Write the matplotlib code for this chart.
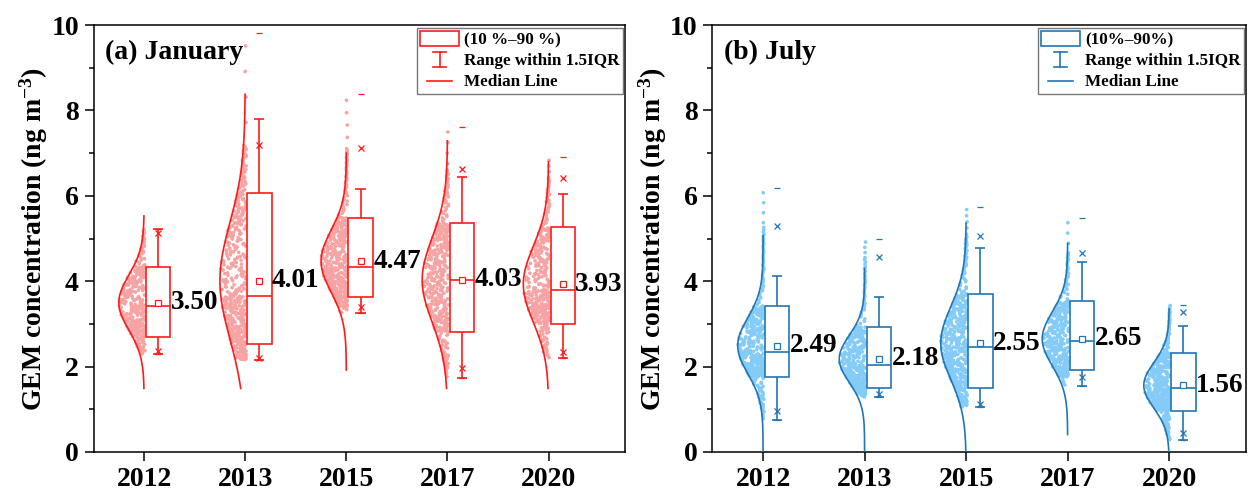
import numpy as np
import matplotlib
matplotlib.use('Agg')
import matplotlib.pyplot as plt
from matplotlib.patches import Rectangle, Patch
from matplotlib.lines import Line2D
from matplotlib.legend_handler import HandlerBase
from matplotlib.ticker import MultipleLocator

plt.rcParams['font.family'] = ['Liberation Serif', 'DejaVu Serif']
plt.rcParams['font.weight'] = 'bold'
plt.rcParams['mathtext.fontset'] = 'custom'
plt.rcParams['mathtext.rm'] = 'Liberation Serif:bold'
plt.rcParams['mathtext.bf'] = 'Liberation Serif:bold'
plt.rcParams['mathtext.default'] = 'bf'

years = ['2012', '2013', '2015', '2017', '2020']

# January
jan_mean = [3.50, 4.01, 4.47, 4.03, 3.93]
jan_median = [3.42, 3.65, 4.33, 4.03, 3.79]
jan_p10 = [2.70, 2.53, 3.64, 2.82, 3.00]
jan_p90 = [4.34, 6.07, 5.49, 5.36, 5.28]
jan_whi_lo = [2.29, 2.16, 3.25, 1.73, 2.19]
jan_whi_hi = [5.23, 7.79, 6.17, 6.44, 6.04]
jan_p1 = [2.37, 2.19, 3.40, 1.97, 2.35]
jan_p99 = [5.12, 7.18, 7.11, 6.63, 6.42]
jan_min = [2.29, 2.16, 3.25, 1.73, 2.19]
jan_max = [5.23, 9.81, 8.38, 7.62, 6.90]
jan_sd = [0.64, 1.36, 0.72, 0.99, 0.89]
jan_curve_lo = [1.49, 1.49, 1.92, 1.49, 1.49]
jan_curve_hi = [5.53, 8.38, 7.00, 7.29, 6.80]
jan_n = [300, 440, 440, 400, 360]

# July
jul_mean = [2.49, 2.18, 2.55, 2.65, 1.56]
jul_median = [2.34, 2.03, 2.47, 2.59, 1.50]
jul_p10 = [1.76, 1.51, 1.51, 1.91, 0.97]
jul_p90 = [3.42, 2.93, 3.69, 3.53, 2.33]
jul_whi_lo = [0.75, 1.28, 1.05, 1.54, 0.27]
jul_whi_hi = [4.13, 3.64, 4.77, 4.45, 2.96]
jul_p1 = [0.96, 1.35, 1.13, 1.76, 0.44]
jul_p99 = [5.30, 4.56, 5.06, 4.67, 3.29]
jul_min = [0.75, 1.28, 1.05, 1.54, 0.27]
jul_max = [6.19, 4.98, 5.75, 5.49, 3.45]
jul_sd = [0.65, 0.55, 0.85, 0.63, 0.53]
jul_curve_lo = [0.0, 0.0, 0.0, 0.41, 0.0]
jul_curve_hi = [5.07, 4.30, 5.36, 4.89, 3.35]
jul_n = [380, 340, 480, 340, 400]


class LegHandler(HandlerBase):
    def __init__(self, kind, color):
        super().__init__()
        self.kind = kind
        self.color = color

    def create_artists(self, legend, orig_handle, xdescent, ydescent,
                       width, height, fontsize, trans):
        x0, y0 = -xdescent, -ydescent
        cx = x0 + width / 2
        if self.kind == 'box':
            return [Rectangle((x0, y0), width, height, facecolor='white',
                              edgecolor=self.color, lw=1.2, transform=trans)]
        if self.kind == 'whisker':
            cw = width * 0.17
            return [Line2D([cx, cx], [y0, y0 + height], color=self.color, lw=1.2, transform=trans),
                    Line2D([cx - cw, cx + cw], [y0, y0], color=self.color, lw=1.2, transform=trans),
                    Line2D([cx - cw, cx + cw], [y0 + height] * 2, color=self.color, lw=1.2, transform=trans)]
        return [Line2D([x0 + 0.18 * width, x0 + 0.82 * width], [y0 + height / 2] * 2,
                       color=self.color, lw=1.2, transform=trans)]


def hash01(k):
    # deterministic scatter jitter in [0, 1)
    v = np.sin(k * 12.9898 + 78.233) * 43758.5453
    return v - np.floor(v)


def draw_panel(ax, stats, line_c, pt_c, title, box_label):
    (mean, med, p10, p90, wlo, whi, p1, p99, mn, mx, sd, clo, chi, npts) = stats
    pos = np.arange(1, len(years) + 1)
    for i, p in enumerate(pos):
        # scatter cloud inside the half curve
        k = np.arange(npts[i])
        q = (k + 0.5) / npts[i]
        u = hash01(k + 1000 * i + 7)
        yv = np.interp(q, [0, 0.01, 0.10, 0.50, 0.90, 0.99, 1.0],
                       [mn[i], p1[i], p10[i], med[i], p90[i], p99[i], mx[i]])
        g = np.exp(-(yv - mean[i]) ** 2 / (2 * sd[i] ** 2))
        xv = p + 0.01 - u * (0.25 * g + 0.01)
        ax.scatter(xv, yv, s=7, color=pt_c, edgecolors='none', zorder=2)
        # half normal curve
        yc = np.linspace(clo[i], chi[i], 200)
        xc = p - 0.25 * np.exp(-(yc - mean[i]) ** 2 / (2 * sd[i] ** 2))
        ax.plot(xc, yc, color=line_c, lw=1.2, zorder=3)

    bx = pos + 0.14
    ax.bar(bx, np.array(p90) - np.array(p10), bottom=p10, width=0.24,
           facecolor='white', edgecolor=line_c, linewidth=1.2, zorder=3)
    ax.hlines(med, bx - 0.12, bx + 0.12, color=line_c, lw=1.2, zorder=4)
    ax.vlines(bx, p90, whi, color=line_c, lw=1.2, zorder=3)
    ax.vlines(bx, wlo, p10, color=line_c, lw=1.2, zorder=3)
    ax.hlines(whi, bx - 0.05, bx + 0.05, color=line_c, lw=1.2, zorder=3)
    ax.hlines(wlo, bx - 0.05, bx + 0.05, color=line_c, lw=1.2, zorder=3)
    ax.plot(bx, mean, 's', ms=4, mfc='white', mec=line_c, mew=0.9, ls='none', zorder=5)
    ax.plot(bx, p99, 'x', ms=5, mec=line_c, mew=0.9, ls='none', zorder=5)
    ax.plot(bx, p1, 'x', ms=5, mec=line_c, mew=0.9, ls='none', zorder=5)
    ax.plot(bx, mx, '_', ms=5, mec=line_c, mew=0.9, ls='none', zorder=5)
    ax.plot(bx, mn, '_', ms=5, mec=line_c, mew=0.9, ls='none', zorder=5)
    for i, p in enumerate(pos):
        ax.text(p + 0.265, mean[i], f'{mean[i]:.2f}', ha='left', va='center',
                fontsize=19.5, fontweight='bold', zorder=6)

    ax.set_xlim(0.5, 5.76)
    ax.set_ylim(0, 10)
    ax.set_xticks(pos)
    ax.set_xticklabels(years)
    ax.yaxis.set_major_locator(MultipleLocator(2))
    ax.yaxis.set_minor_locator(MultipleLocator(1))
    ax.tick_params(axis='both', which='major', direction='out', length=6.5,
                   width=1.1, labelsize=20, pad=4)
    ax.tick_params(axis='y', which='minor', direction='out', length=3.5, width=1.1)
    ax.tick_params(top=False, right=False)
    for sp in ax.spines.values():
        sp.set_linewidth(1.1)
    ax.set_ylabel('GEM concentration (ng m$^{-3}$)', fontsize=20, fontweight='bold', labelpad=1)
    ax.text(0.022, 0.937, title, transform=ax.transAxes, ha='left', va='center',
            fontsize=20, fontweight='bold')

    h_box, h_wh, h_med = Patch(), Line2D([], []), Line2D([], [])
    leg = ax.legend([h_box, h_wh, h_med], [box_label, 'Range within 1.5IQR', 'Median Line'],
                    handler_map={h_box: LegHandler('box', line_c),
                                 h_wh: LegHandler('whisker', line_c),
                                 h_med: LegHandler('median', line_c)},
                    loc='upper right', fontsize=12.3, frameon=True, fancybox=False,
                    handlelength=2.25, handleheight=1.0, labelspacing=0.2,
                    handletextpad=0.3, borderpad=0.2, borderaxespad=0.15)
    leg.get_frame().set_edgecolor('#555555')
    leg.get_frame().set_linewidth(1.0)


fig = plt.figure(figsize=(12.57, 5.04), dpi=100)
ax1 = fig.add_axes([0.0744, 0.1032, 0.4232, 0.847])
ax2 = fig.add_axes([0.5667, 0.1032, 0.4248, 0.847])

draw_panel(ax1, (jan_mean, jan_median, jan_p10, jan_p90, jan_whi_lo, jan_whi_hi, jan_p1, jan_p99,
                 jan_min, jan_max, jan_sd, jan_curve_lo, jan_curve_hi, jan_n),
           '#FF1A1A', '#F7A3A3', '(a) January', '(10 %–90 %)')
draw_panel(ax2, (jul_mean, jul_median, jul_p10, jul_p90, jul_whi_lo, jul_whi_hi, jul_p1, jul_p99,
                 jul_min, jul_max, jul_sd, jul_curve_lo, jul_curve_hi, jul_n),
           '#2276B4', '#84CBF7', '(b) July', '(10%–90%)')

fig.savefig('out.png', dpi=100)
